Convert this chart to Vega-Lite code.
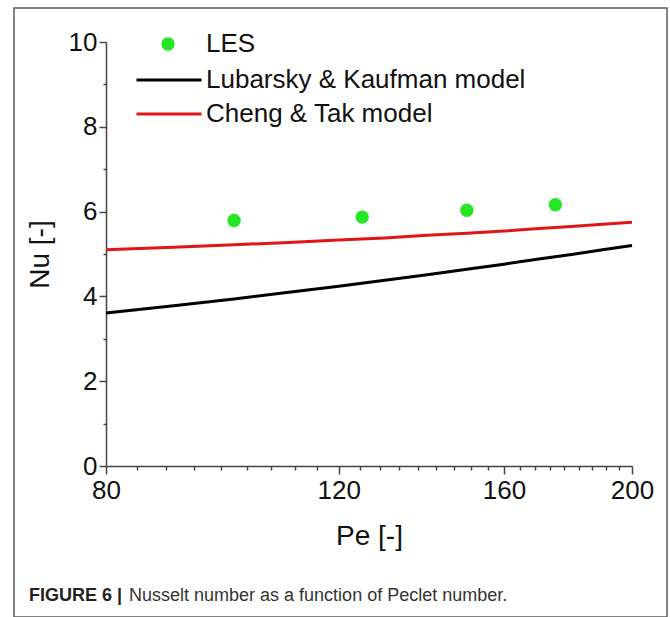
{
  "$schema": "https://vega.github.io/schema/vega-lite/v6.json",
  "autosize": "none",
  "width": 653,
  "height": 609,
  "padding": {"left": 14, "top": 8, "right": 3, "bottom": 0},
  "background": "white",
  "config": {
    "view": {"stroke": "#5c5c5c", "strokeWidth": 1.5},
    "font": "Liberation Sans",
    "axis": {"grid": false, "domainColor": "#444", "tickColor": "#444", "domainWidth": 1.5, "tickWidth": 1.5, "labelColor": "#111", "titleColor": "#111", "labelFont": "Liberation Sans", "titleFont": "Liberation Sans", "titleFontWeight": "normal"},
    "legend": {"title": null, "orient": "none", "padding": 0, "labelFontSize": 26, "labelColor": "#111", "labelFont": "Liberation Sans", "labelLimit": 600}
  },
  "title": {
    "text": "FIGURE 6 |",
    "subtitle": "\u200b\u00a0\u00a0\u00a0\u00a0\u00a0\u00a0\u00a0\u00a0\u00a0\u00a0\u00a0\u00a0\u00a0\u00a0\u00a0\u00a0\u00a0\u00a0\u00a0\u00a0Nusselt number as a function of Peclet number.",
    "orient": "bottom",
    "anchor": "start",
    "frame": "group",
    "dx": 15,
    "offset": -30,
    "fontSize": 18,
    "fontWeight": "bold",
    "color": "#222",
    "font": "Liberation Sans",
    "subtitleFont": "Liberation Sans",
    "subtitleFontSize": 18,
    "subtitleFontWeight": "normal",
    "subtitleColor": "#333",
    "subtitlePadding": -18
  },
  "datasets": {
    "les": [
      {"Pe": 100, "Nu": 5.79, "series": "LES"},
      {"Pe": 125, "Nu": 5.87, "series": "LES"},
      {"Pe": 150, "Nu": 6.03, "series": "LES"},
      {"Pe": 175, "Nu": 6.16, "series": "LES"}
    ],
    "lk": [
      {"model": "Lubarsky & Kaufman model", "Pe": 80, "Nu": 3.61},
      {"model": "Lubarsky & Kaufman model", "Pe": 90, "Nu": 3.78},
      {"model": "Lubarsky & Kaufman model", "Pe": 100, "Nu": 3.94},
      {"model": "Lubarsky & Kaufman model", "Pe": 110, "Nu": 4.10},
      {"model": "Lubarsky & Kaufman model", "Pe": 120, "Nu": 4.24},
      {"model": "Lubarsky & Kaufman model", "Pe": 130, "Nu": 4.38},
      {"model": "Lubarsky & Kaufman model", "Pe": 140, "Nu": 4.51},
      {"model": "Lubarsky & Kaufman model", "Pe": 150, "Nu": 4.64},
      {"model": "Lubarsky & Kaufman model", "Pe": 160, "Nu": 4.76},
      {"model": "Lubarsky & Kaufman model", "Pe": 170, "Nu": 4.88},
      {"model": "Lubarsky & Kaufman model", "Pe": 180, "Nu": 4.99},
      {"model": "Lubarsky & Kaufman model", "Pe": 190, "Nu": 5.10},
      {"model": "Lubarsky & Kaufman model", "Pe": 200, "Nu": 5.20}
    ],
    "ct": [
      {"model": "Cheng & Tak model", "Pe": 80, "Nu": 5.10},
      {"model": "Cheng & Tak model", "Pe": 90, "Nu": 5.16},
      {"model": "Cheng & Tak model", "Pe": 100, "Nu": 5.22},
      {"model": "Cheng & Tak model", "Pe": 110, "Nu": 5.27},
      {"model": "Cheng & Tak model", "Pe": 120, "Nu": 5.33},
      {"model": "Cheng & Tak model", "Pe": 130, "Nu": 5.38},
      {"model": "Cheng & Tak model", "Pe": 140, "Nu": 5.44},
      {"model": "Cheng & Tak model", "Pe": 150, "Nu": 5.49},
      {"model": "Cheng & Tak model", "Pe": 160, "Nu": 5.54},
      {"model": "Cheng & Tak model", "Pe": 170, "Nu": 5.60},
      {"model": "Cheng & Tak model", "Pe": 180, "Nu": 5.65},
      {"model": "Cheng & Tak model", "Pe": 190, "Nu": 5.70},
      {"model": "Cheng & Tak model", "Pe": 200, "Nu": 5.75}
    ]
  },
  "encoding": {
    "x": {
      "field": "Pe",
      "type": "quantitative",
      "scale": {"type": "log", "domain": [80, 200], "nice": false, "zero": false, "range": [92, 618]},
      "axis": {
        "title": "Pe [-]",
        "titleFontSize": 28,
        "titlePadding": 19,
        "labelFontSize": 26,
        "labelPadding": 3,
        "labelFlush": false,
        "labelOverlap": false,
        "offset": -151,
        "values": [80, 84.44, 88.89, 93.33, 97.78, 102.22, 106.67, 111.11, 115.56, 120, 124.44, 128.89, 133.33, 137.78, 142.22, 146.67, 151.11, 155.56, 160, 164.44, 168.89, 173.33, 177.78, 182.22, 186.67, 191.11, 195.56, 200],
        "labelExpr": "indexof([80, 120, 160, 200], datum.value) >= 0 ? datum.label : ''",
        "tickSize": {"condition": {"test": "indexof([80, 120, 160, 200], datum.value) >= 0", "value": 8}, "value": 4}
      }
    },
    "y": {
      "field": "Nu",
      "type": "quantitative",
      "scale": {"domain": [0, 10], "nice": false, "range": [458, 34]},
      "axis": {
        "title": "Nu [-]",
        "titleFontSize": 28,
        "titlePadding": 14,
        "labelFontSize": 26,
        "labelPadding": 2,
        "labelFlush": false,
        "labelOverlap": false,
        "offset": -92,
        "values": [0, 1, 2, 3, 4, 5, 6, 7, 8, 9, 10],
        "labelExpr": "datum.value % 2 === 0 ? datum.label : ''",
        "tickSize": {"condition": {"test": "datum.value % 2 === 0", "value": 7}, "value": 3}
      }
    }
  },
  "layer": [
    {
      "data": {"name": "lk"},
      "mark": {"type": "line", "strokeWidth": 3},
      "encoding": {
        "color": {
          "field": "model",
          "type": "nominal",
          "scale": {"domain": ["Lubarsky & Kaufman model"], "range": ["#000000"]},
          "legend": {
            "legendX": 121,
            "legendY": 38,
            "symbolType": "stroke",
            "symbolSize": 4225,
            "symbolStrokeWidth": 3,
            "labelOffset": 3
          }
        }
      }
    },
    {
      "data": {"name": "ct"},
      "mark": {"type": "line", "strokeWidth": 3},
      "encoding": {
        "stroke": {
          "field": "model",
          "type": "nominal",
          "scale": {"domain": ["Cheng & Tak model"], "range": ["#e01616"]},
          "legend": {
            "legendX": 121,
            "legendY": 72,
            "symbolType": "stroke",
            "symbolSize": 4225,
            "symbolStrokeWidth": 3,
            "labelOffset": 3
          }
        }
      }
    },
    {
      "data": {"name": "les"},
      "mark": {"type": "point", "filled": true, "size": 180, "opacity": 1, "shape": "circle"},
      "encoding": {
        "fill": {
          "field": "series",
          "type": "nominal",
          "scale": {"domain": ["LES"], "range": ["#26e626"]},
          "legend": {
            "legendX": 141,
            "legendY": 23,
            "symbolType": "circle",
            "symbolSize": 180,
            "symbolOpacity": 1,
            "symbolStrokeWidth": 0,
            "labelOffset": 25
          }
        }
      }
    }
  ]
}
